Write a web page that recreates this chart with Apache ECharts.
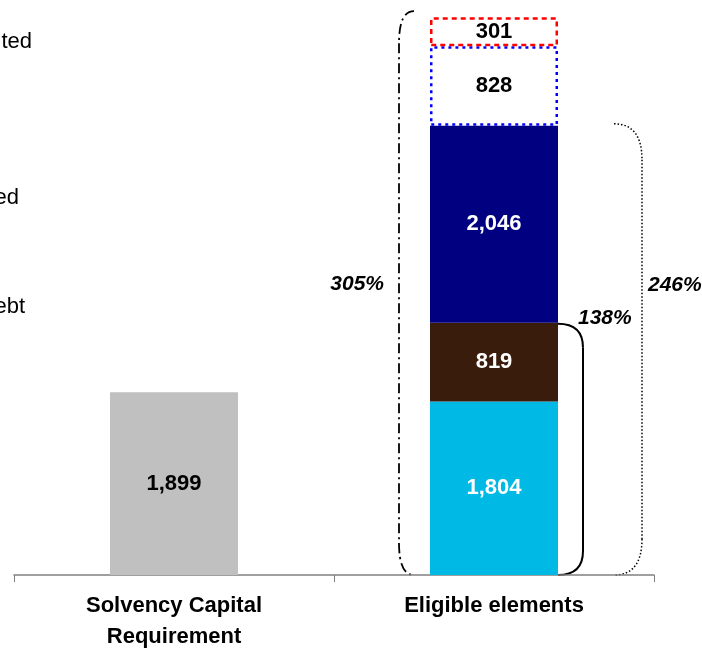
<!DOCTYPE html>
<html><head><meta charset="utf-8">
<script src="https://cdn.jsdelivr.net/npm/echarts@6/dist/echarts.min.js"></script>
<style>html,body{margin:0;padding:0;background:#fff}#c{width:702px;height:652px}</style>
</head><body><div id="c"></div>
<script>
var categories = ['Solvency Capital\nRequirement', 'Eligible elements'];
var scrValues = [1899, null];
var tier1Unrestricted = [null, 1804];
var tier1Restricted = [null, 819];
var tier2 = [null, 2046];
var tier2Extra = [null, 828];
var tier3 = [null, 301];
var ratioLabels = ['305%', '246%', '138%'];
var sideTexts = ['ted', 'ed', 'ebt'];

var chart = echarts.init(document.getElementById('c'));
var FONT = '"Liberation Sans", Arial, sans-serif';
function lbl(color){ return {show:true, position:'inside', color:color, fontFamily:FONT, fontWeight:'bold', fontSize:22,
  formatter:function(p){return p.value==null?'':p.value.toLocaleString('en-US');}}; }
var bw = '40%';
chart.setOption({
  animation:false,
  grid:{left:14, right:48, top:17, bottom:70},
  xAxis:{type:'category', data:categories,
    axisLine:{lineStyle:{color:'#808080', width:1.5}},
    axisTick:{show:true, length:7, lineStyle:{color:'#808080'}},
    axisLabel:{color:'#000', fontFamily:FONT, fontWeight:'bold', fontSize:22, lineHeight:31, margin:15}},
  yAxis:{type:'value', min:0, max:5800, show:false, splitLine:{show:false}},
  series:[
    {type:'bar', stack:'a', data:scrValues, barWidth:bw, itemStyle:{color:'#C0C0C0'}, label:lbl('#000')},
    {type:'bar', stack:'a', data:tier1Unrestricted, barWidth:bw, itemStyle:{color:'#00B9E4'}, label:lbl('#fff')},
    {type:'bar', stack:'a', data:tier1Restricted, barWidth:bw, itemStyle:{color:'#3A1C0D'}, label:lbl('#fff')},
    {type:'bar', stack:'a', data:tier2, barWidth:bw, itemStyle:{color:'#000080'}, label:lbl('#fff')},
    {type:'bar', stack:'a', data:tier2Extra, barWidth:bw, itemStyle:{color:'#fff', borderColor:'#0000FF', borderWidth:2.5, borderType:[3,4]}, label:lbl('#000')},
    {type:'bar', stack:'a', data:tier3, barWidth:bw, itemStyle:{color:'#fff', borderColor:'#FF0000', borderWidth:2.5, borderType:[5,4]}, label:lbl('#000')}
  ]
});

function px(x, v){ return chart.convertToPixel({xAxisIndex:0, yAxisIndex:0}, [x, v]); }
var total = 1804+819+2046+828+301;
var base = px(1, 0), top305 = px(1, total), top246 = px(1, 1804+819+2046), top138 = px(1, 1804+819);
var barHalf = 64;
var L = base[0]-barHalf, R = base[0]+barHalf;

var graphics = [];
function brace(x0, xv, y0, y1, r, style){
  graphics.push({type:'bezierCurve', shape:{x1:x0, y1:y0, cpx1:xv, cpy1:y0, x2:xv, y2:y0+r}, style:style});
  graphics.push({type:'line', shape:{x1:xv, y1:y0+r, x2:xv, y2:y1-r}, style:style});
  graphics.push({type:'bezierCurve', shape:{x1:xv, y1:y1-r, cpx1:xv, cpy1:y1, x2:x0, y2:y1}, style:style});
}
brace(L-16, L-31, top305[1]-6, base[1], 32, {fill:null, stroke:'#000', lineWidth:1.8, lineDash:[10,4,2,4]});
brace(R, R+25, top138[1]+1, base[1], 24, {fill:null, stroke:'#000', lineWidth:2});
brace(R+56, R+84, top246[1]-2, base[1], 36, {fill:null, stroke:'#000', lineWidth:1.5, lineDash:[1.5,2]});
function txt(x, y, s, align, italic, bold, size){
  graphics.push({type:'text', x:x, y:y, style:{text:s, fontFamily:FONT, fontSize:size, fontStyle:italic?'italic':'normal', fontWeight:bold?'bold':'normal', fill:'#000', textAlign:align, textVerticalAlign:'middle'}});
}
txt(L-46, 284, ratioLabels[0], 'right', true, true, 21);
txt(R+90, 285, ratioLabels[1], 'left', true, true, 21);
txt(R+20, top138[1]-4, ratioLabels[2], 'left', true, true, 21);
var sideY = [42, 198, 307], sideX = [32, 19, 25];
for (var i=0;i<sideTexts.length;i++) txt(sideX[i], sideY[i], sideTexts[i], 'right', false, false, 22);
chart.setOption({graphic:graphics});
</script></body></html>
